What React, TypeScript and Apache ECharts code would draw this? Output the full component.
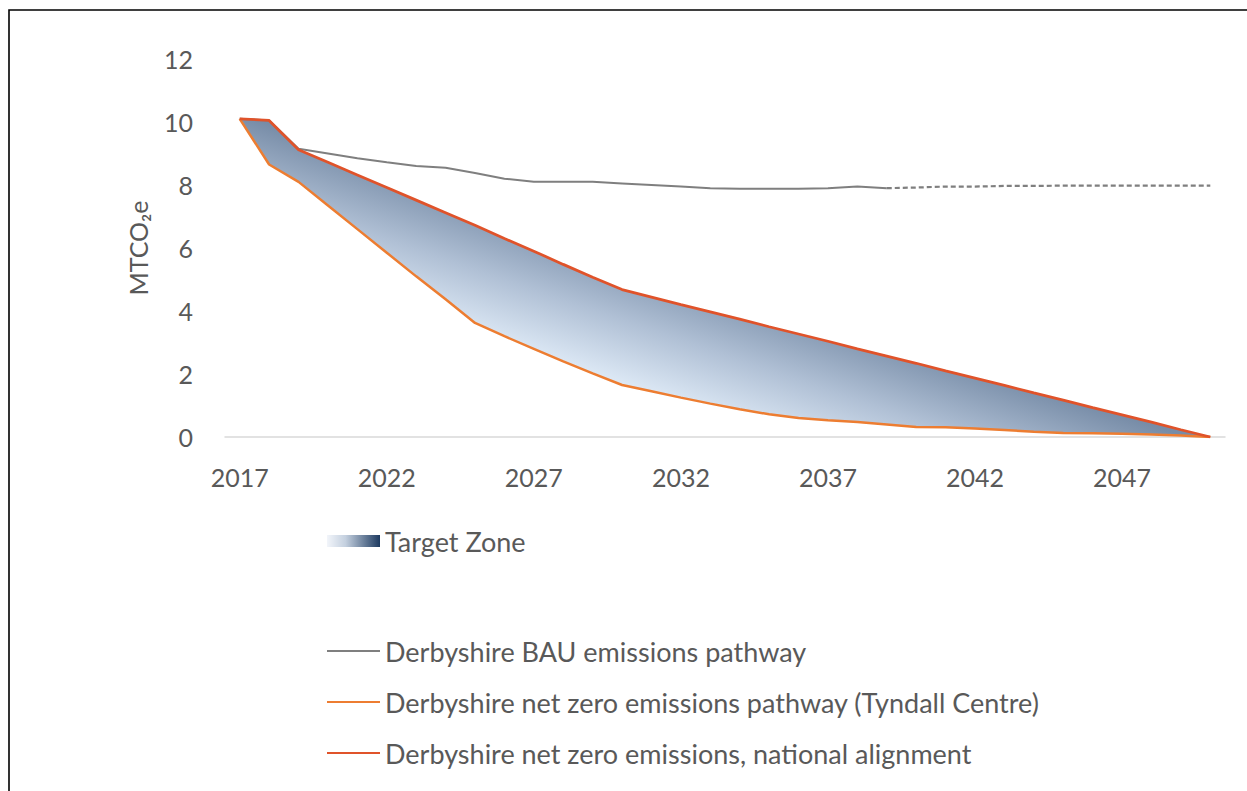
import React, { useEffect, useRef } from "react";
import * as echarts from "echarts";

const years = [
  "2017", "2018", "2019", "2020", "2021", "2022", "2023", "2024", "2025", "2026",
  "2027", "2028", "2029", "2030", "2031", "2032", "2033", "2034", "2035", "2036",
  "2037", "2038", "2039", "2040", "2041", "2042", "2043", "2044", "2045", "2046",
  "2047", "2048", "2049", "2050",
];

const bauActual = [
  10.1, 10.05, 9.15, 9.0, 8.85, 8.72, 8.6, 8.55, 8.38, 8.2,
  8.1, 8.1, 8.1, 8.05, 8.0, 7.95, 7.9, 7.88, 7.88, 7.88,
  7.9, 7.95, 7.9, null, null, null, null, null, null, null,
  null, null, null, null,
];

const bauProjected = [
  null, null, null, null, null, null, null, null, null, null,
  null, null, null, null, null, null, null, null, null, null,
  null, null, 7.9, 7.92, 7.95, 7.95, 7.97, 7.97, 7.98, 7.98,
  7.98, 7.98, 7.98, 7.98,
];

const tyndall = [
  10.1, 8.65, 8.1, 7.35, 6.6, 5.85, 5.1, 4.37, 3.62, 3.2,
  2.8, 2.4, 2.02, 1.65, 1.45, 1.25, 1.06, 0.88, 0.72, 0.6,
  0.53, 0.48, 0.4, 0.32, 0.31, 0.27, 0.22, 0.17, 0.13, 0.12,
  0.1, 0.08, 0.05, 0,
];

const national = [
  10.1, 10.05, 9.12, 8.72, 8.32, 7.92, 7.52, 7.12, 6.72, 6.3,
  5.9, 5.48, 5.07, 4.68, 4.44, 4.2, 3.97, 3.74, 3.5, 3.27,
  3.04, 2.8, 2.57, 2.34, 2.1, 1.87, 1.64, 1.4, 1.17, 0.93,
  0.7, 0.47, 0.23, 0,
];

const yTicks = { min: 0, max: 12, interval: 2 };

const NAME_ZONE = "Target Zone";
const NAME_BAU = "Derbyshire BAU emissions pathway";
const NAME_TYNDALL = "Derbyshire net zero emissions pathway (Tyndall Centre)";
const NAME_NATIONAL = "Derbyshire net zero emissions, national alignment";

const FONT = "Lato, 'Noto Sans', sans-serif";
const TEXT_COLOR = "#595959";
const GRAY = "#7f7f7f";
const ORANGE = "#ed7d31";
const RED = "#e0532a";

export default function App() {
  const ref = useRef<HTMLDivElement>(null);

  useEffect(() => {
    if (!ref.current) return;
    const chart = echarts.init(ref.current, undefined, { renderer: "svg" });

    const zoneDiff = national.map((v, i) => +(v - tyndall[i]).toFixed(3));

    const zoneFill = new echarts.graphic.LinearGradient(
      199, 237, 241, 114,
      [
        { offset: 0, color: "#dbe7f4" },
        { offset: 0.45, color: "#b0c0d5" },
        { offset: 1, color: "#778ca7" },
      ],
      true
    );

    const swatch = new echarts.graphic.LinearGradient(0, 0, 1, 0, [
      { offset: 0, color: "#f2f5fa" },
      { offset: 0.35, color: "#c4d0df" },
      { offset: 1, color: "#1d3a60" },
    ]);

    chart.setOption({
      animation: false,
      backgroundColor: "#ffffff",
      textStyle: { fontFamily: FONT },
      grid: { left: 225, right: 22, top: 59, height: 378, containLabel: false },
      graphic: [
        {
          type: "rect",
          shape: { x: 9, y: 10, width: 1400, height: 1000 },
          style: { fill: "none", stroke: "#000000", lineWidth: 1.6 },
          silent: true,
        },
      ],
      legend: [
        {
          data: [{ name: NAME_ZONE, icon: "rect", itemStyle: { color: swatch } }],
          left: 327,
          top: 527,
          padding: 0,
          itemWidth: 53,
          itemHeight: 12,
          selectedMode: false,
          textStyle: { fontFamily: FONT, fontSize: 27, color: TEXT_COLOR, lineHeight: 28 },
        },
        {
          data: [
            { name: NAME_BAU, icon: "rect", itemStyle: { color: GRAY } },
            { name: NAME_TYNDALL, icon: "rect", itemStyle: { color: ORANGE } },
            { name: NAME_NATIONAL, icon: "rect", itemStyle: { color: RED } },
          ],
          orient: "vertical",
          left: 327,
          top: 637,
          padding: 0,
          itemWidth: 53,
          itemHeight: 2,
          itemGap: 23,
          selectedMode: false,
          textStyle: { fontFamily: FONT, fontSize: 27, color: TEXT_COLOR, lineHeight: 28 },
        },
      ],
      xAxis: {
        type: "category",
        data: years,
        boundaryGap: true,
        axisLine: { show: true, lineStyle: { color: "#d9d9d9", width: 1.5 } },
        axisTick: { show: false },
        splitLine: { show: false },
        axisLabel: {
          interval: 4,
          fontFamily: FONT,
          fontSize: 25,
          color: TEXT_COLOR,
          margin: 27,
        },
      },
      yAxis: {
        type: "value",
        min: yTicks.min,
        max: yTicks.max,
        interval: yTicks.interval,
        axisLine: { show: false },
        axisTick: { show: false },
        splitLine: { show: false },
        axisLabel: { fontFamily: FONT, fontSize: 25, color: TEXT_COLOR, margin: 32 },
        name: "MTCO₂e",
        nameLocation: "middle",
        nameRotate: 90,
        nameGap: 75,
        nameTextStyle: { fontFamily: FONT, fontSize: 25, color: TEXT_COLOR },
      },
      series: [
        {
          name: "zone-base",
          type: "line",
          stack: "zone",
          data: tyndall,
          symbol: "none",
          lineStyle: { width: 0, opacity: 0 },
          silent: true,
          z: 1,
        },
        {
          name: NAME_ZONE,
          type: "line",
          stack: "zone",
          data: zoneDiff,
          symbol: "none",
          color: "#5b7393",
          lineStyle: { width: 0, opacity: 0 },
          areaStyle: { color: zoneFill, opacity: 1 },
          silent: true,
          z: 1,
        },
        {
          name: NAME_BAU,
          type: "line",
          data: bauActual,
          symbol: "none",
          color: GRAY,
          lineStyle: { color: GRAY, width: 2 },
          z: 2,
        },
        {
          name: "BAU projection",
          type: "line",
          data: bauProjected,
          symbol: "none",
          color: GRAY,
          lineStyle: { color: GRAY, width: 2.2, type: [5, 3] },
          z: 2,
        },
        {
          name: NAME_TYNDALL,
          type: "line",
          data: tyndall,
          symbol: "none",
          color: ORANGE,
          lineStyle: { color: ORANGE, width: 2.5 },
          z: 3,
        },
        {
          name: NAME_NATIONAL,
          type: "line",
          data: national,
          symbol: "none",
          color: RED,
          lineStyle: { color: RED, width: 2.75 },
          z: 4,
        },
      ],
    });

    return () => {
      chart.dispose();
    };
  }, []);

  return (
    <div
      ref={ref}
      style={{ position: "absolute", left: 0, top: 0, width: 1247, height: 791 }}
    />
  );
}
